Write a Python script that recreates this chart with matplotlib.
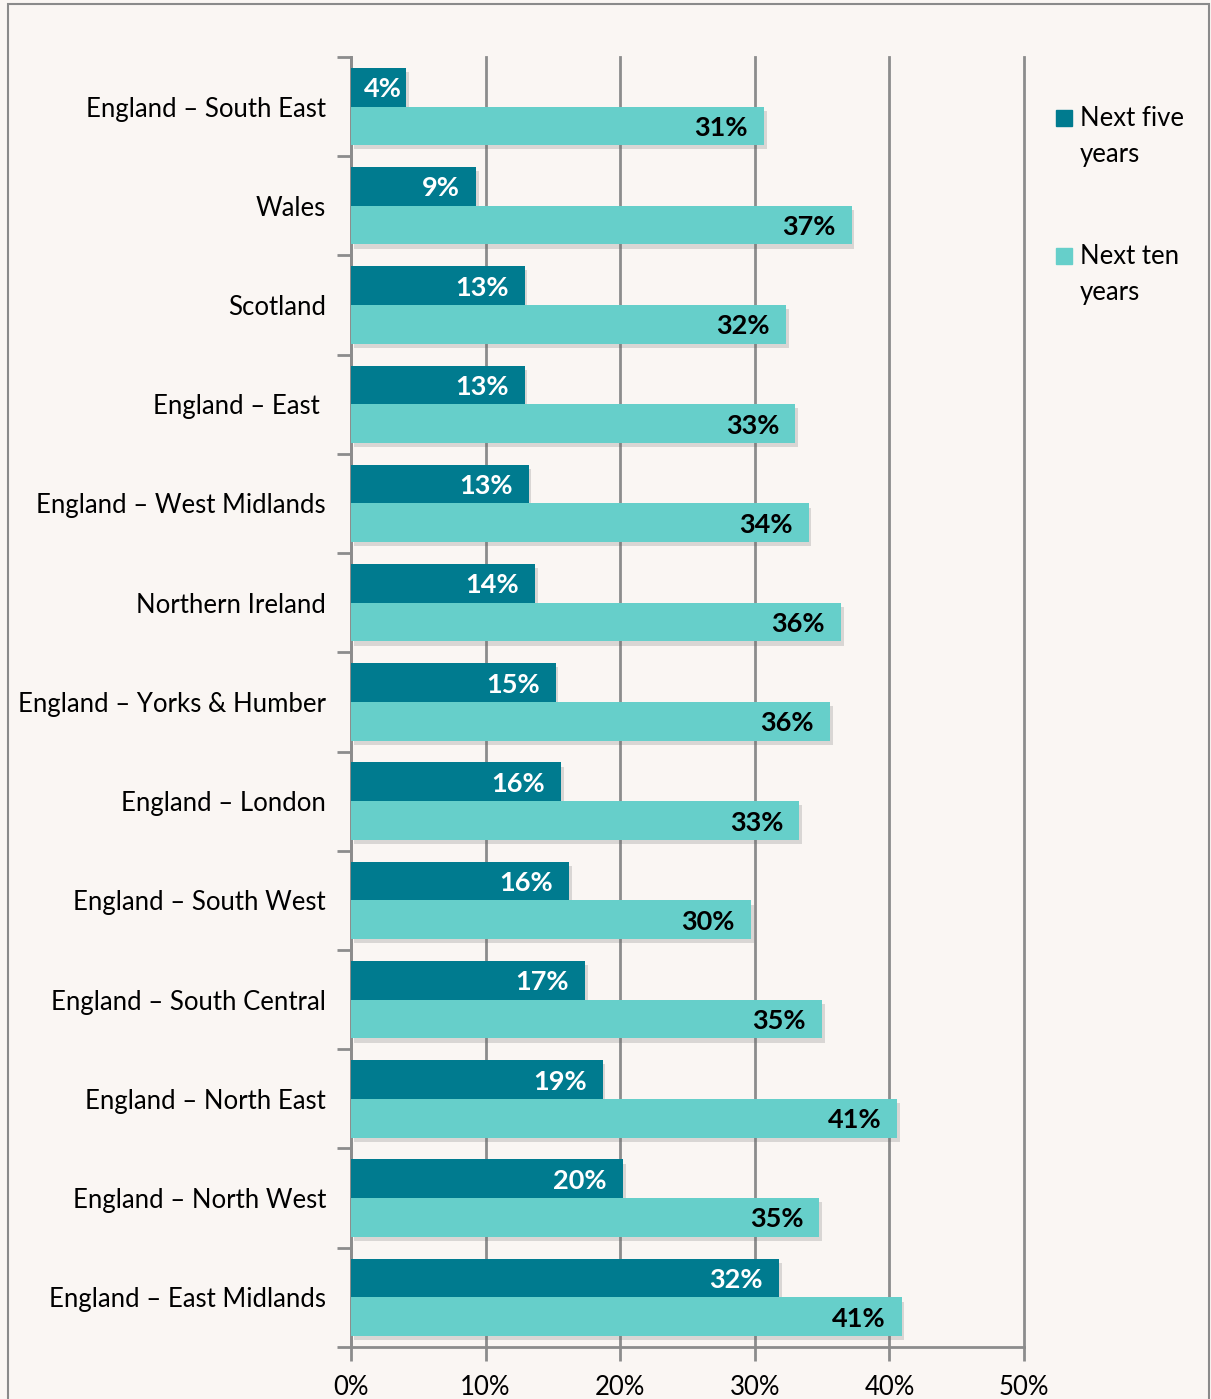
import matplotlib
matplotlib.use("Agg")
import matplotlib.pyplot as plt
import matplotlib.patheffects as pe
from matplotlib.patches import Rectangle
import numpy as np

regions = [
    "England – South East",
    "Wales",
    "Scotland",
    "England – East ",
    "England – West Midlands",
    "Northern Ireland",
    "England – Yorks & Humber",
    "England – London",
    "England – South West",
    "England – South Central",
    "England – North East",
    "England – North West",
    "England – East Midlands",
]
next_five = [4.1, 9.3, 12.9, 12.9, 13.2, 13.7, 15.2, 15.6, 16.2, 17.4, 18.7, 20.2, 31.8]
next_ten = [30.7, 37.2, 32.3, 33.0, 34.0, 36.4, 35.6, 33.3, 29.7, 35.0, 40.6, 34.8, 40.9]
series_names = ["Next five\nyears", "Next ten\nyears"]

DARK = "#007B8F"
LIGHT = "#66CFCA"
BG = "#FAF6F3"
GRID = "#8C8C8C"
FS = 18.5

plt.rcParams["font.family"] = ["Lato", "DejaVu Sans"]

fig = plt.figure(figsize=(12.11, 13.99), dpi=100, facecolor=BG)
ax = fig.add_axes([0.2898, 0.0372, 0.8456 - 0.2898, 0.9593 - 0.0372])
ax.set_facecolor(BG)

# outer frame round the whole chart
fig.patches.append(Rectangle((8 / 1211, -0.01), (1209 - 8) / 1211, 1 - 4 / 1399 + 0.01,
                             transform=fig.transFigure, fill=False,
                             edgecolor="#8A8A8A", linewidth=1.5))

n = len(regions)
y = np.arange(n)
h = 0.39
shadow = [pe.SimplePatchShadow(offset=(2, -3), shadow_rgbFace="#666666", alpha=0.22), pe.Normal()]

b1 = ax.barh(y - h / 2, next_five, height=h, color=DARK, zorder=3)
b2 = ax.barh(y + h / 2, next_ten, height=h, color=LIGHT, zorder=3)
for b in list(b1) + list(b2):
    b.set_path_effects(shadow)

for bars, vals, tc in [(b1, next_five, "white"), (b2, next_ten, "black")]:
    for rect, v in zip(bars, vals):
        # short bars get the label pushed closer to the end so it stays inside
        x = v - 1.2 if v > 6 else v - 0.3
        ax.text(x, rect.get_y() + rect.get_height() / 2 + 0.02, f"{round(v)}%",
                ha="right", va="center", color=tc, fontsize=19.5,
                fontweight="bold", zorder=4)

ax.set_xlim(0, 50)
ax.set_ylim(n - 0.5, -0.5)
ax.set_xticks(np.arange(0, 51, 10))
ax.set_xticklabels([f"{t}%" for t in range(0, 51, 10)], fontsize=FS)
ax.xaxis.grid(True, color=GRID, linewidth=2, zorder=0)
for gl in ax.get_xgridlines():
    gl.set_clip_on(False)
ax.tick_params(axis="x", length=10, width=2, color=GRID, pad=10)

ax.set_yticks(y)
ax.set_yticklabels(regions, fontsize=FS)
ax.set_yticks(np.arange(-0.5, n, 1), minor=True)
ax.tick_params(axis="y", which="major", length=0, pad=18)
ax.tick_params(axis="y", which="minor", length=10, width=2, color=GRID)

for s in ["top", "right"]:
    ax.spines[s].set_visible(False)
for s in ["left", "bottom"]:
    ax.spines[s].set_color(GRID)
    ax.spines[s].set_linewidth(2)

# legend: square key beside the first line of each two-line label
for i, (name, col) in enumerate(zip(series_names, [DARK, LIGHT])):
    bottom = 0.9465 - i * 0.107
    ax.add_patch(Rectangle((1.0476, bottom), 0.0238, 0.0124, transform=ax.transAxes,
                           color=col, clip_on=False))
    ax.text(1.0832, bottom + 0.0155, name, transform=ax.transAxes, fontsize=FS,
            ha="left", va="top", linespacing=1.55)

fig.savefig("out.png", dpi=100, facecolor=BG)
